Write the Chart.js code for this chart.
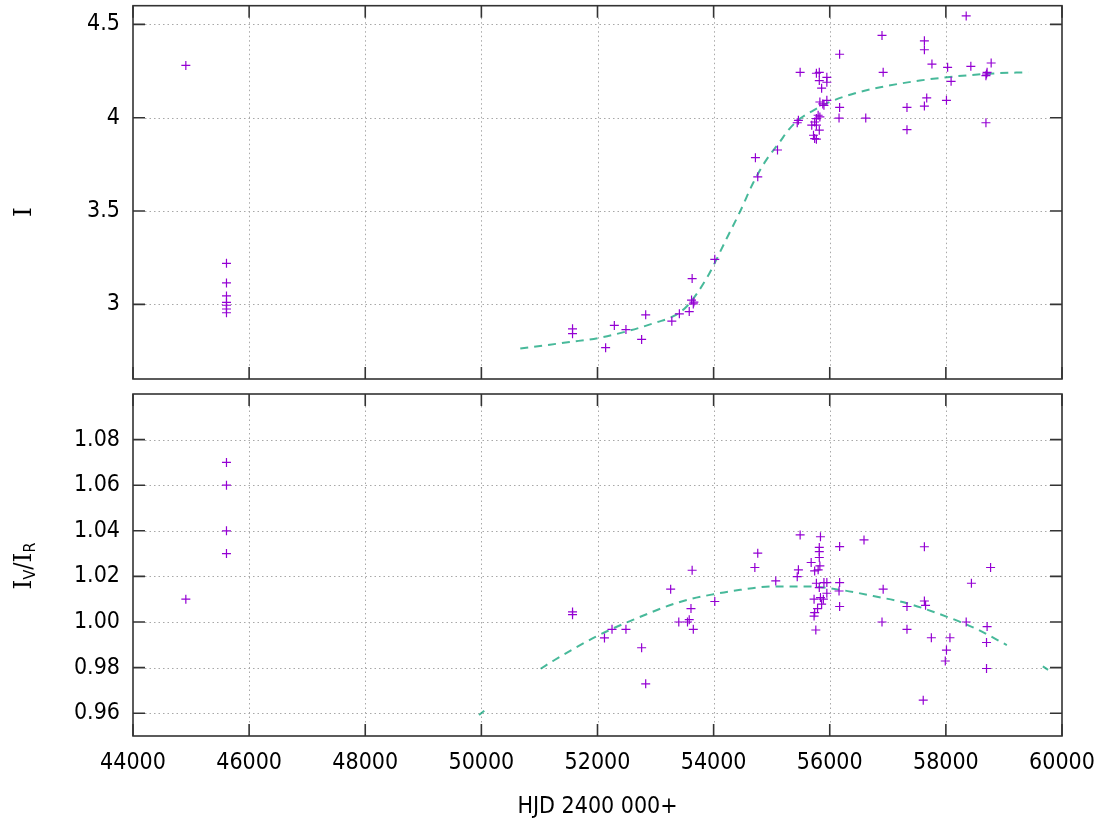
<!DOCTYPE html>
<html>
<head>
<meta charset="utf-8">
<title>HJD light curve</title>
<script src="https://cdn.jsdelivr.net/npm/chart.js@4.4.1/dist/chart.umd.min.js"></script>
<style>
  body { margin: 0; background: #fff; }
  #wrap { position: relative; width: 1109px; height: 823px; }
  .panel { position: absolute; left: 0; width: 1109px; }
  #topPanel { top: 0; height: 390px; }
  #bottomPanel { top: 385px; height: 438px; }
</style>
</head>
<body>
<div id="wrap">
  <div class="panel" id="topPanel"><canvas id="intensityChart"></canvas></div>
  <div class="panel" id="bottomPanel"><canvas id="ratioChart"></canvas></div>
</div>
<script>
// observations, HJD - 2400000
const hjdI = [44910, 45610, 45610, 45610, 45610, 45610, 45610, 45610,
  51570, 51570, 52140, 52290, 52490, 52760, 52830, 53280, 53410, 53580, 53620, 53650, 53660, 53630, 54020,
  54720, 54760, 55100, 55460, 55440, 55490, 55770, 55820, 55820, 55950, 55950, 55860, 55830, 55880, 55900,
  55950, 55800, 55770, 55830, 55740, 55690, 55770, 55820, 55720, 55740, 55770,
  56170, 56170, 56160, 56620, 56900, 56920, 57330, 57330, 57630, 57630, 57670, 57630, 57760,
  58030, 58010, 58090, 58350, 58430, 58700, 58710, 58690, 58780, 58690];
const intensity = [4.28, 3.22, 3.115, 3.045, 3.01, 2.995, 2.975, 2.955,
  2.869, 2.843, 2.768, 2.887, 2.865, 2.812, 2.944, 2.910, 2.949, 2.961, 3.023, 3.002, 3.012, 3.138, 3.241,
  3.786, 3.683, 3.827, 3.986, 3.973, 4.243, 4.238, 4.243, 4.199, 4.216, 4.190, 4.158, 4.084, 4.074, 4.066,
  4.093, 4.013, 3.995, 4.004, 3.977, 3.960, 3.960, 3.933, 3.906, 3.888, 3.885,
  4.340, 4.055, 3.998, 3.998, 4.441, 4.243, 4.055, 3.936, 4.412, 4.364, 4.106, 4.062, 4.287,
  4.270, 4.093, 4.195, 4.545, 4.275, 4.234, 4.243, 4.225, 4.293, 3.973];

const hjdRatio = [44910, 45610, 45610, 45610, 45610,
  51570, 51570, 52120, 52250, 52490, 52760, 52830, 53260, 53400, 53550, 53580, 53610, 53650, 53630, 54020,
  54710, 54760, 55070, 55490, 55460, 55440, 55840, 55820, 55820, 55820, 55680, 55830, 55740, 55800,
  55770, 55900, 55950, 55820, 55950, 55730, 55840, 55890, 55860, 55790, 55740, 55730, 55760,
  56170, 56170, 56160, 56170, 56590, 56920, 56900, 57330, 57330, 57630, 57630, 57650, 57750, 57610,
  58010, 57990, 58070, 58350, 58440, 58710, 58700, 58700, 58770];
const ratio = [1.010, 1.070, 1.060, 1.040, 1.030,
  1.0044, 1.0032, 0.993, 0.9968, 0.9968, 0.9887, 0.9729, 1.0144, 1.000, 1.000, 1.001, 1.0059, 0.9968, 1.0227, 1.0090,
  1.0239, 1.0302, 1.018, 1.0382, 1.0229, 1.0199, 1.0374, 1.0327, 1.0309, 1.0283, 1.0261, 1.0246, 1.0224, 1.0229,
  1.017, 1.0173, 1.0173, 1.0151, 1.0126, 1.010, 1.0107, 1.010, 1.0078, 1.0059, 1.0041, 1.0026, 0.9965,
  1.0331, 1.0173, 1.0136, 1.0068, 1.036, 1.0144, 1.000, 1.0068, 0.9968, 1.033, 1.0092, 1.0073, 0.9931, 0.9657,
  0.9877, 0.9829, 0.9931, 1.000, 1.017, 0.998, 0.991, 0.9796, 1.0239];

// fitted curves
const fitIX = [50670, 51010, 51520, 52040, 52560, 53020, 53300, 53540, 53880, 54220, 54460, 54680,
  54900, 55140, 55290, 55490, 55720, 56000, 56460, 56870, 57550, 58190, 58870, 59420];
const fitIY = [2.763, 2.777, 2.798, 2.821, 2.860, 2.904, 2.935, 2.990, 3.140, 3.350, 3.500, 3.650,
  3.770, 3.870, 3.935, 3.995, 4.039, 4.084, 4.133, 4.163, 4.199, 4.222, 4.238, 4.243];
const fitRX = [51020, 51240, 51990, 52560, 53420, 54000, 54460, 55030, 55600, 56180, 56750, 57330, 57900, 58480, 59050];
const fitRY = [0.9795, 0.983, 0.9938, 1.0004, 1.0088, 1.0122, 1.0141, 1.0156, 1.0156, 1.0141, 1.0114, 1.0082, 1.0034, 0.9975, 0.9899];
// two stray bits of the ratio fit outside its main span
const fitRBitsX = [49960, 50050, 55000, 59670, 59760];
const fitRBitsY = [0.9592, 0.9611, null, 0.9805, 0.9790];

// tick labels
const xTicks = [44000, 46000, 48000, 50000, 52000, 54000, 56000, 58000, 60000];
const iTicks = [3, 3.5, 4, 4.5];
const ratioTicks = [0.96, 0.98, 1.00, 1.02, 1.04, 1.06, 1.08];

const FONT = '"DejaVu Sans Condensed", "DejaVu Sans", sans-serif';
Chart.defaults.font.family = FONT;
Chart.defaults.font.size = 23;
Chart.defaults.color = '#000';

function toPoints(xs, ys) {
  return xs.map((x, i) => ({ x: x, y: ys[i] }));
}

// gnuplot style box: dotted grid, inward ticks on all four sides
const framePlugin = {
  id: 'frame',
  beforeDatasetsDraw(chart) {
    const ctx = chart.ctx;
    const a = chart.chartArea;
    const xs = chart.scales.x, ys = chart.scales.y;
    const tick = 12;
    ctx.save();
    ctx.strokeStyle = '#a8a8a8';
    ctx.lineWidth = 1;
    ctx.setLineDash([1.5, 3]);
    xs.ticks.forEach(t => {
      const px = Math.round(xs.getPixelForValue(t.value)) + 0.5;
      if (px < a.left + 2 || px > a.right - 2) return;
      ctx.beginPath(); ctx.moveTo(px, a.top + tick); ctx.lineTo(px, a.bottom - tick); ctx.stroke();
    });
    ys.ticks.forEach(t => {
      const py = Math.round(ys.getPixelForValue(t.value)) + 0.5;
      ctx.beginPath(); ctx.moveTo(a.left + tick, py); ctx.lineTo(a.right - tick, py); ctx.stroke();
    });
    ctx.setLineDash([]);
    ctx.strokeStyle = '#333';
    ctx.lineWidth = 1.6;
    xs.ticks.forEach(t => {
      const px = xs.getPixelForValue(t.value);
      ctx.beginPath();
      ctx.moveTo(px, a.bottom); ctx.lineTo(px, a.bottom - tick);
      ctx.moveTo(px, a.top); ctx.lineTo(px, a.top + tick);
      ctx.stroke();
    });
    ys.ticks.forEach(t => {
      const py = ys.getPixelForValue(t.value);
      ctx.beginPath();
      ctx.moveTo(a.left, py); ctx.lineTo(a.left + tick, py);
      ctx.moveTo(a.right, py); ctx.lineTo(a.right - tick, py);
      ctx.stroke();
    });
    ctx.strokeRect(a.left, a.top, a.right - a.left, a.bottom - a.top);
    ctx.restore();
  }
};

// rotated y title made of pieces [text, font, baseline shift]
function drawYTitle(ctx, cx, cy, pieces) {
  ctx.save();
  ctx.translate(cx, cy);
  ctx.rotate(-Math.PI / 2);
  ctx.fillStyle = '#000';
  ctx.textBaseline = 'alphabetic';
  ctx.textAlign = 'left';
  let total = 0;
  pieces.forEach(p => { ctx.font = p[1]; total += ctx.measureText(p[0]).width; });
  let u = -total / 2;
  pieces.forEach(p => {
    ctx.font = p[1];
    ctx.fillText(p[0], u, p[2]);
    u += ctx.measureText(p[0]).width;
  });
  ctx.restore();
}

const BIG_I = '25px "DejaVu Serif", serif';
const SMALL = '16px ' + FONT;
const BIG = '24px ' + FONT;

function panelOptions(yMin, yMax, yTickValues, yFormat, showX, xAxisHeight, padTop) {
  return {
    responsive: true,
    maintainAspectRatio: false,
    animation: false,
    layout: { padding: { top: padTop, right: 47, left: 0, bottom: 0 } },
    plugins: { legend: { display: false }, tooltip: { enabled: false } },
    scales: {
      x: {
        type: 'linear',
        min: 44000,
        max: 60000,
        afterBuildTicks: s => { s.ticks = xTicks.map(v => ({ value: v })); },
        afterFit: s => { s.height = xAxisHeight; s.paddingLeft = 0; s.paddingRight = 0; },
        grid: { display: false, drawTicks: false },
        border: { display: false },
        ticks: { display: showX, padding: 13, maxRotation: 0, callback: v => String(v) }
      },
      y: {
        type: 'linear',
        min: yMin,
        max: yMax,
        afterBuildTicks: s => { s.ticks = yTickValues.map(v => ({ value: v })); },
        afterFit: s => { s.width = 133; s.paddingTop = 0; s.paddingBottom = 0; },
        grid: { display: false, drawTicks: false },
        border: { display: false },
        ticks: { padding: 13, callback: yFormat }
      }
    }
  };
}

const pointStyle = {
  pointStyle: 'cross',
  pointRadius: 4.5,
  pointBorderWidth: 1.2,
  borderColor: '#9400d3',
  backgroundColor: '#9400d3'
};
const fitStyle = {
  showLine: true,
  pointRadius: 0,
  borderColor: 'rgba(0,158,115,0.72)',
  borderWidth: 2,
  borderDash: [8, 6],
  cubicInterpolationMode: 'monotone',
  fill: false
};

new Chart(document.getElementById('intensityChart'), {
  type: 'scatter',
  data: {
    datasets: [
      Object.assign({ label: 'I', data: toPoints(hjdI, intensity) }, pointStyle),
      Object.assign({ label: 'fit', data: toPoints(fitIX, fitIY) }, fitStyle)
    ]
  },
  options: panelOptions(2.6, 4.6, iTicks, v => String(v), false, 11, 3),
  plugins: [framePlugin, {
    id: 'titleI',
    afterDraw(chart) {
      drawYTitle(chart.ctx, 31, 212, [['I', BIG_I, 0]]);
    }
  }]
});

new Chart(document.getElementById('ratioChart'), {
  type: 'scatter',
  data: {
    datasets: [
      Object.assign({ label: 'IV/IR', data: toPoints(hjdRatio, ratio) }, pointStyle),
      Object.assign({ label: 'fit', data: toPoints(fitRX, fitRY) }, fitStyle),
      Object.assign({ label: 'fit bits', data: toPoints(fitRBitsX, fitRBitsY), spanGaps: false }, fitStyle)
    ]
  },
  options: panelOptions(0.95, 1.10, ratioTicks, v => v.toFixed(2), true, 87, 9),
  plugins: [framePlugin, {
    id: 'titles',
    afterDraw(chart) {
      const ctx = chart.ctx;
      drawYTitle(ctx, 31, 181, [['I', BIG_I, 0], ['V', SMALL, 4], ['/', BIG, 0], ['I', BIG_I, 0], ['R', SMALL, 4]]);
      ctx.save();
      ctx.font = '23px ' + FONT;
      ctx.fillStyle = '#000';
      ctx.textAlign = 'center';
      ctx.textBaseline = 'middle';
      ctx.fillText('HJD 2400 000+', (chart.chartArea.left + chart.chartArea.right) / 2, 422);
      ctx.restore();
    }
  }]
});
</script>
</body>
</html>
